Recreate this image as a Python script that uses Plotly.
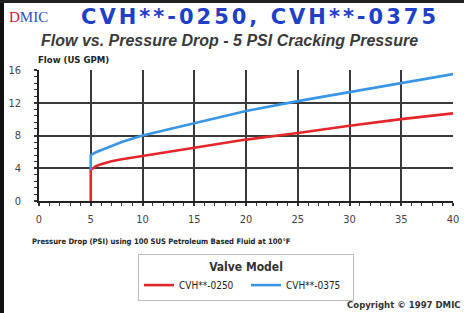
import plotly.graph_objects as go

# ---- data ----
pressure = [5, 5, 5.5, 6, 7, 8, 10, 12.5, 15, 20, 25, 30, 35, 40]
flow_0250 = [0, 3.8, 4.25, 4.5, 4.85, 5.1, 5.5, 6.0, 6.5, 7.5, 8.3, 9.2, 10.0, 10.7]
flow_0375 = [3.8, 5.6, 5.95, 6.2, 6.75, 7.2, 8.0, 8.75, 9.5, 11.0, 12.2, 13.3, 14.4, 15.5]
series_names = ["CVH**-0250", "CVH**-0375"]
series_colors = ["#e3262b", "#3a96e4"]
x_range = [0, 40]
y_range = [0, 16]

W, H = 464, 313
L, R, T, B = 39, 11, 70, 112
PW, PH = W - L - R, H - T - B


def px(xp):
    return (xp - L) / PW


def py(yp):
    return (H - B - yp) / PH


fig = go.Figure()
for name, ys, col in zip(series_names, [flow_0250, flow_0375], series_colors):
    fig.add_trace(go.Scatter(x=pressure, y=ys, mode="lines", name=name,
                             line=dict(color=col, width=2.6)))

narrow = "DejaVu Sans Condensed, Liberation Sans Narrow, Liberation Sans, sans-serif"
grid = "#3a3a3a"
fig.update_xaxes(range=x_range, tick0=0, dtick=5, showgrid=True, gridcolor=grid,
                 gridwidth=1.6, showline=True, linecolor="#222", linewidth=1.6,
                 zeroline=False, ticks="outside", ticklen=3, tickcolor="#333", tickwidth=1.6,
                 ticklabelstandoff=4, automargin=False,
                 tickfont=dict(family=narrow, size=11, color="#444"),
                 minor=dict(dtick=1, ticks="outside", ticklen=3, tickcolor="#333",
                            tickwidth=1, showgrid=False),
                 fixedrange=True)
fig.update_yaxes(range=y_range, tick0=0, dtick=4, showgrid=True, gridcolor=grid,
                 gridwidth=1.6, showline=True, linecolor="#222", linewidth=1.6,
                 zeroline=False, ticks="outside", ticklen=3, tickcolor="#333", tickwidth=1.6,
                 ticklabelstandoff=11, automargin=False,
                 tickfont=dict(family=narrow, size=11, color="#444"),
                 minor=dict(dtick=0.8, ticks="outside", ticklen=3, tickcolor="#333",
                            tickwidth=1, showgrid=False),
                 fixedrange=True)

annotations = [
    dict(x=px(7), y=py(17), xanchor="left", yanchor="middle",
         text="<span style='color:#d4202a'>D</span>MIC",
         font=dict(family="Liberation Serif, serif", size=15, color="#2e4fc4")),
    dict(x=px(260), y=py(17), xanchor="center", yanchor="middle",
         text="<b><span style='letter-spacing:3px'>CVH**-0250, CVH**-0375</span></b>",
         font=dict(family="DejaVu Sans, sans-serif", size=21, color="#1f3fc8")),
    dict(x=px(229), y=py(40), xanchor="center", yanchor="middle",
         text="<b><i>Flow vs. Pressure Drop - 5 PSI Cracking Pressure</i></b>",
         font=dict(family="Liberation Sans, Arial, sans-serif", size=16, color="#3a3a3a")),
    dict(x=px(36), y=py(59), xanchor="left", yanchor="middle",
         text="<b>Flow (US GPM)</b>",
         font=dict(family=narrow, size=9.5, color="#222")),
    dict(x=px(30), y=py(241), xanchor="left", yanchor="middle",
         text="<b>Pressure Drop (PSI) using 100 SUS Petroleum Based Fluid at 100°F</b>",
         font=dict(family=narrow, size=7.6, color="#222")),
    dict(x=px(463), y=py(304), xanchor="right", yanchor="middle",
         text="<b>Copyright © 1997 DMIC</b>",
         font=dict(family=narrow, size=9.5, color="#333")),
]
for a in annotations:
    a.update(xref="paper", yref="paper", showarrow=False)

shapes = [
    dict(type="rect", xref="paper", yref="paper", x0=px(0), x1=px(4), y0=py(0), y1=py(H),
         fillcolor="#111", line=dict(width=0)),
    dict(type="rect", xref="paper", yref="paper", x0=px(0), x1=px(W), y0=py(0), y1=py(3),
         fillcolor="#222", line=dict(width=0)),
]

fig.update_layout(
    width=W, height=H, margin=dict(l=L, r=R, t=T, b=B, autoexpand=False),
    paper_bgcolor="white", plot_bgcolor="white",
    annotations=annotations, shapes=shapes,
    showlegend=True,
    legend=dict(orientation="h", x=px(246), xanchor="center", y=py(254), yanchor="top",
                bordercolor="#bbbbbb", borderwidth=1, bgcolor="white",
                entrywidth=62, itemwidth=30,
                title=dict(text="<b>Valve Model</b>", side="top center",
                           font=dict(family=narrow, size=12, color="#333")),
                font=dict(family=narrow, size=10, color="#222"), tracegroupgap=0),
)

fig.write_html("out.html", config={"displayModeBar": False},
               post_script="document.body.style.margin='0';document.body.style.overflow='hidden';")
